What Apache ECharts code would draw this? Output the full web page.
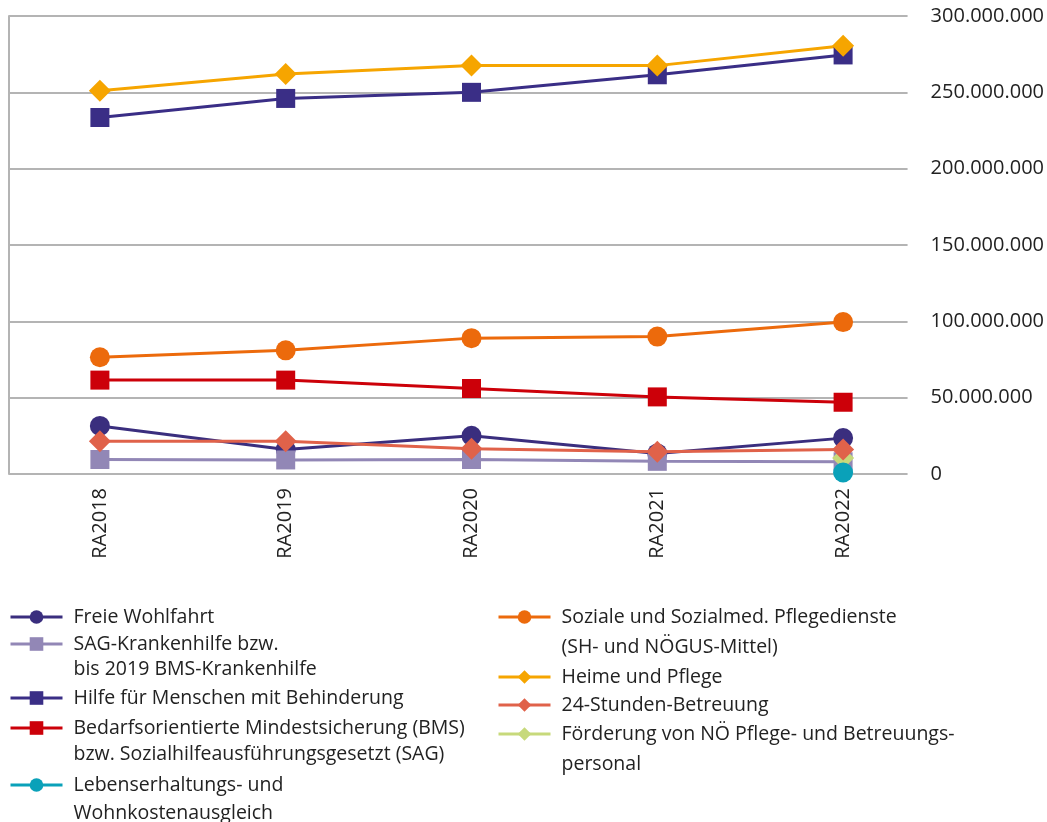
<!DOCTYPE html>
<html>
<head>
<meta charset="utf-8">
<script src="https://cdn.jsdelivr.net/npm/echarts@6/dist/echarts.min.js"></script>
<style>
html,body{margin:0;padding:0;background:#fff;}
#chart{width:1047px;height:822px;}
</style>
</head>
<body>
<div id="chart"></div>
<script>
const categories = ['RA2018', 'RA2019', 'RA2020', 'RA2021', 'RA2022'];
const yTicks = [0, 50000000, 100000000, 150000000, 200000000, 250000000, 300000000];

const freieWohlfahrt = [31500000, 16000000, 25000000, 13500000, 23500000];
const sagKrankenhilfe = [9500000, 9200000, 9500000, 8300000, 8000000];
const hilfeBehinderung = [233500000, 246000000, 250000000, 261500000, 274500000];
const bms = [61500000, 61500000, 56000000, 50500000, 47000000];
const lebenserhaltung = [null, null, null, null, 1000000];
const sozialePflegedienste = [76500000, 81000000, 89000000, 90000000, 99500000];
const heimePflege = [251000000, 262000000, 267500000, 267500000, 280500000];
const stunden24 = [21500000, 21500000, 16500000, 14500000, 16000000];
const foerderung = [null, null, null, null, 10500000];

const names = {
  fw: 'Freie Wohlfahrt',
  sag: 'SAG-Krankenhilfe bzw.\nbis 2019 BMS-Krankenhilfe',
  hilfe: 'Hilfe für Menschen mit Behinderung',
  bms: 'Bedarfsorientierte Mindestsicherung (BMS)\nbzw. Sozialhilfeausführungsgesetzt (SAG)',
  leb: 'Lebenserhaltungs- und\nWohnkostenausgleich',
  soz: 'Soziale und Sozialmed. Pflegedienste\n(SH- und NÖGUS-Mittel)',
  heime: 'Heime und Pflege',
  h24: '24-Stunden-Betreuung',
  foe: 'Förderung von NÖ Pflege- und Betreuungs-\npersonal'
};

const FONT = '"Open Sans", "Noto Sans", sans-serif';
const TXT = '#222222';
const SYM = 19;

function mkSeries(name, data, color, symbol, size) {
  return {
    name: name, type: 'line', data: data,
    xAxisIndex: 1, yAxisIndex: 2,
    symbol: symbol, symbolSize: size || SYM,
    showSymbol: true, connectNulls: false,
    lineStyle: { color: color, width: 3 },
    itemStyle: { color: color },
    emphasis: { disabled: true },
    animation: false
  };
}

const series = [
  mkSeries(names.fw, freieWohlfahrt, '#3a2e7e', 'circle', 20),
  mkSeries(names.sag, sagKrankenhilfe, '#9287b6', 'rect'),
  mkSeries(names.hilfe, hilfeBehinderung, '#3a2e86', 'rect'),
  mkSeries(names.bms, bms, '#cc0009', 'rect'),
  mkSeries(names.soz, sozialePflegedienste, '#ec6a0c', 'circle', 20),
  mkSeries(names.heime, heimePflege, '#f6a500', 'diamond', 22),
  mkSeries(names.foe, foerderung, '#c7d97b', 'diamond', 22),
  mkSeries(names.h24, stunden24, '#e0624a', 'diamond', 22),
  mkSeries(names.leb, lebenserhaltung, '#0aa1b9', 'circle', 20)
];

function mkLegend(name, left, iconCenterY, lh) {
  const LH = lh || 26;
  const twoLine = name.indexOf('\n') >= 0;
  return {
    data: [name], left: left,
    top: twoLine ? iconCenterY - 1.5 * LH : iconCenterY - LH / 2,
    padding: 0,
    itemWidth: 52, itemHeight: 17, itemGap: 0,
    selectedMode: false,
    lineStyle: { width: 3 },
    formatter: function (n) { return twoLine ? '\n' + n : n; },
    textStyle: {
      fontFamily: FONT, fontSize: 19.5, color: TXT, lineHeight: LH,
      padding: [0, 0, 0, 6]
    }
  };
}

const legends = [
  mkLegend(names.fw, 9, 617),
  mkLegend(names.sag, 9, 644, 25),
  mkLegend(names.hilfe, 9, 698),
  mkLegend(names.bms, 9, 728, 26),
  mkLegend(names.leb, 9, 785, 28),
  mkLegend(names.soz, 497, 617, 30),
  mkLegend(names.heime, 497, 677),
  mkLegend(names.h24, 497, 705),
  mkLegend(names.foe, 497, 734, 30)
];

const chart = echarts.init(document.getElementById('chart'), null, { renderer: 'canvas' });
chart.setOption({
  backgroundColor: '#ffffff',
  animation: false,
  grid: [
    { left: 9, width: 899, top: 16, height: 458 },
    { left: 7, width: 929, top: 16, height: 458 }
  ],
  xAxis: [
    { type: 'value', gridIndex: 0, show: false, min: 0, max: 1 },
    {
      type: 'category', gridIndex: 1, data: categories, boundaryGap: true,
      axisLine: { show: false }, axisTick: { show: false },
      axisLabel: { rotate: 90, margin: 14, fontFamily: FONT, fontSize: 20, color: TXT }
    }
  ],
  yAxis: [
    {
      type: 'value', gridIndex: 0, position: 'right', min: 0, max: 300000000, interval: 50000000,
      axisLine: { show: false }, axisTick: { show: false },
      splitLine: { show: true, lineStyle: { color: '#b4b4b4', width: 2 } },
      axisLabel: {
        margin: 23, fontFamily: FONT, fontSize: 20, color: TXT,
        formatter: function (v) { return v === 0 ? '0' : String(v).replace(/\B(?=(\d{3})+(?!\d))/g, '.'); }
      }
    },
    {
      type: 'value', gridIndex: 0, position: 'left', min: 0, max: 300000000, interval: 50000000,
      axisLine: { show: true, lineStyle: { color: '#b4b4b4', width: 2 } },
      axisTick: { show: false }, axisLabel: { show: false }, splitLine: { show: false }
    },
    {
      type: 'value', gridIndex: 1, min: 0, max: 300000000, interval: 50000000, show: false,
      splitLine: { show: false }
    }
  ],
  legend: legends,
  series: series
});
</script>
</body>
</html>
